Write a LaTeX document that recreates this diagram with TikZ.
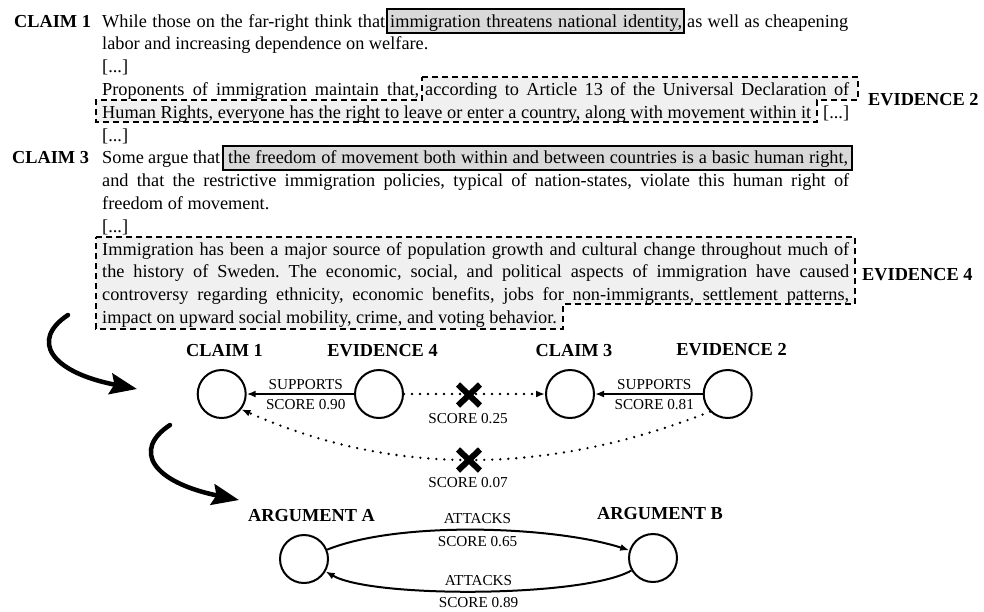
\documentclass[tikz,border=0pt]{standalone}
\usepackage{fontspec}
\setmainfont{Liberation Serif}
\usetikzlibrary{arrows.meta,shapes.misc}
\newcommand\bodysz{\fontsize{18.3pt}{22pt}\selectfont}
\newcommand\labsz{\fontsize{15.2pt}{18pt}\selectfont}
\definecolor{claimfill}{RGB}{217,217,217}
\definecolor{evfill}{RGB}{240,240,240}
\frenchspacing
\begin{document}
\begin{tikzpicture}[x=1pt,y=-1pt,
  txt/.style={inner sep=0pt, anchor=base west, font=\bodysz},
  tag/.style={inner sep=0pt, anchor=base west, font=\bodysz\bfseries},
  head/.style={inner sep=0pt, anchor=base, font=\bodysz\bfseries},
  lab/.style={inner sep=0pt, anchor=base, font=\labsz},
  elab/.style={inner sep=0pt, font=\labsz},
  claimbox/.style={draw=black, line width=1.6pt, fill=claimfill},
  evbox/.style={draw=black, line width=1.5pt, dash pattern=on 6pt off 4pt, fill=evfill},
  vert/.style={circle, draw, line width=2pt, minimum size=48pt, inner sep=0pt},
  supp/.style={line width=2pt, -{Latex[length=9pt,width=7pt]}},
  weak/.style={line width=2.6pt, line cap=round, dash pattern=on 0pt off 8pt,
    -{Latex[length=9pt,width=7pt]}},
  xmark/.style={cross out, draw, line width=6pt, minimum width=16pt,
    minimum height=15pt, inner sep=0pt},
  attack/.style={line width=2pt, -{Latex[length=9pt,width=7pt]}},
  bigarrow/.style={line width=4.5pt, line cap=round,
    -{Stealth[length=27pt,width=21pt,inset=4pt]}}]

\useasboundingbox (0,0) rectangle (984,611);

% highlighted spans
\draw[claimbox] (387,9) rectangle (684,33);
\draw[evbox] (422,77) -- (858,77) -- (858,100) -- (817,100) -- (817,122)
  -- (96,122) -- (96,100) -- (422,100) -- cycle;
\draw[claimbox] (223,146) rectangle (852,170);
\draw[evbox] (96,237) -- (855,237) -- (855,304) -- (563,304) -- (563,329)
  -- (96,329) -- cycle;

% side tags
\node[tag] (tc1) at (14,27) {CLAIM 1};
\node[tag] (te2) at (868,105) {EVIDENCE 2};
\node[tag] (tc3) at (12,163.8) {CLAIM 3};
\node[tag] (te4) at (862,280) {EVIDENCE 4};

% running text
\node[txt] (t1a) at (102,27) {\makebox[283pt][s]{While those on the far-right think that}};
\node[txt] (t1b) at (390,27) {\makebox[292pt][s]{immigration threatens national identity,}};
\node[txt] (t1c) at (687,27) {\makebox[161pt][s]{as well as cheapening}};
\node[txt] (t2) at (102,49.8) {labor and increasing dependence on welfare.};
\node[txt] (t3) at (102,72.6) {[...]};
\node[txt] (t4a) at (102,95.4) {\makebox[317pt][s]{Proponents of immigration maintain that,}};
\node[txt] (t4b) at (425,95.4) {\makebox[424pt][s]{according to Article 13 of the Universal Declaration of}};
\node[txt] (t5a) at (102,118.2) {\makebox[709pt][s]{Human Rights, everyone has the right to leave or enter a country, along with movement within it}};
\node[txt] (t5b) at (823,118.2) {[...]};
\node[txt] (t6) at (102,141) {[...]};
\node[txt] (t7a) at (102,163.8) {\makebox[118pt][s]{Some argue that}};
\node[txt] (t7b) at (228,163.8) {\makebox[620pt][s]{the freedom of movement both within and between countries is a basic human right,}};
\node[txt] (t8) at (102,186.6) {\makebox[747pt][s]{and that the restrictive immigration policies, typical of nation-states, violate this human right of}};
\node[txt] (t9) at (102,209.4) {freedom of movement.};
\node[txt] (t10) at (102,232.2) {[...]};
\node[txt] (t11) at (102,255) {\makebox[747pt][s]{Immigration has been a major source of population growth and cultural change throughout much of}};
\node[txt] (t12) at (102,277.8) {\makebox[747pt][s]{the history of Sweden. The economic, social, and political aspects of immigration have caused}};
\node[txt] (t13) at (102,300.6) {\makebox[747pt][s]{controversy regarding ethnicity, economic benefits, jobs for non-immigrants, settlement patterns,}};
\node[txt] (t14) at (102,323.4) {impact on upward social mobility, crime, and voting behavior.};

% step arrows
\coordinate (s1a) at (68,315);
\coordinate (s1b) at (137,389);
\draw[bigarrow] (s1a) .. controls (30,340) and (50,372) .. (s1b);
\coordinate (s2a) at (170,425);
\coordinate (s2b) at (239,500);
\draw[bigarrow] (s2a) .. controls (132,450) and (152,482) .. (s2b);

% claim / evidence graph
\node[vert] (c1) at (221.7,394) {};
\node[vert] (e4) at (379,394) {};
\node[vert] (c3) at (570,394) {};
\node[vert] (e2) at (727.7,394) {};
\node[head] (hc1) at (224.5,356) {CLAIM 1};
\node[head] (he4) at (382.5,356) {EVIDENCE 4};
\node[head] (hc3) at (574,356) {CLAIM 3};
\node[head] (he2) at (731.5,355) {EVIDENCE 2};

\draw[supp] (e4) -- node[elab, above=3pt, pos=0.45] (s90a) {SUPPORTS}
  node[elab, below=4pt, pos=0.45] (s90b) {SCORE 0.90} (c1);
\draw[supp] (e2) -- node[elab, above=3pt, pos=0.45] (s81a) {SUPPORTS}
  node[elab, below=4pt, pos=0.45] (s81b) {SCORE 0.81} (c3);

\draw[weak] (e4) -- (c3);
\draw[weak] (e2.-135) .. controls (546,476) and (392,476) .. (c1.-38);
\node[xmark] (x1) at (469,395) {};
\node[xmark] (x2) at (469,460) {};
\node[lab] (s25) at (468,423) {SCORE 0.25};
\node[lab] (s07) at (468,487) {SCORE 0.07};

% argument graph
\node[vert] (ga) at (304,559) {};
\node[vert] (gb) at (653,558) {};
\node[head] (hga) at (311.5,521) {ARGUMENT A};
\node[head] (hgb) at (660,519) {ARGUMENT B};
\draw[attack] (ga) to[out=22,in=162,looseness=0.66]
  node[elab, above=5pt] (a65a) {ATTACKS} node[elab, below=5pt] (a65b) {SCORE 0.65} (gb);
\draw[attack] (gb) to[out=-150,in=-30,looseness=0.45]
  node[elab, above=5pt] (a89a) {ATTACKS} node[elab, below=5pt] (a89b) {SCORE 0.89} (ga);

\end{tikzpicture}
\end{document}
